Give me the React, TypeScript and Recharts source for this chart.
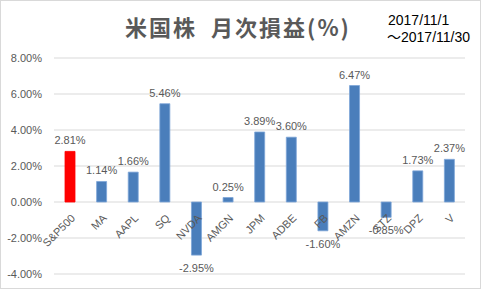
import React from 'react';
import { BarChart, Bar, XAxis, YAxis, CartesianGrid, Cell, LabelList } from 'recharts';

const categories = ['S&P500', 'MA', 'AAPL', 'SQ', 'NVDA', 'AMGN', 'JPM', 'ADBE', 'FB', 'AMZN', 'STZ', 'DPZ', 'V'];
const returns = [2.81, 1.14, 1.66, 5.46, -2.95, 0.25, 3.89, 3.6, -1.6, 6.47, -0.85, 1.73, 2.37];
const yTicks = [-4, -2, 0, 2, 4, 6, 8];
const highlight = 'S&P500';
const titleText = '米国株  月次損益(%)';
const periodLine1 = '2017/11/1';
const periodLine2 = '～2017/11/30';

const data = categories.map((name, i) => ({ name, value: returns[i] }));

const FONT = '"Liberation Sans", Arial, sans-serif';
const TEXT = '#595959';

const fmt = (v: number) => `${v.toFixed(2)}%`;

const ValueLabel = (props: any) => {
  const { x, y, width, height, index } = props;
  const v = returns[index];
  const top = Math.min(y, y + height);
  const bottom = Math.max(y, y + height);
  const cx = x + width / 2;
  const ty = v >= 0 ? top - 11 : bottom + 13;
  return (
    <text x={cx} y={ty} textAnchor="middle" dominantBaseline="central" fontSize={11} fill={TEXT} fontFamily={FONT}>
      {fmt(v)}
    </text>
  );
};

const CategoryLabel = (props: any) => {
  const { x, y, width, height, index } = props;
  const v = returns[index];
  const top = Math.min(y, y + height);
  const bottom = Math.max(y, y + height);
  const zero = v >= 0 ? bottom : top;
  const ax = x + width / 2 + 3;
  const ay = zero + 14;
  return (
    <text
      x={ax}
      y={ay}
      textAnchor="end"
      dominantBaseline="central"
      fontSize={11}
      fill={TEXT}
      fontFamily={FONT}
      transform={`rotate(-45 ${ax} ${ay})`}
    >
      {categories[index]}
    </text>
  );
};

export default function App() {
  return (
    <div style={{ position: 'absolute', left: 0, top: 0, width: 481, height: 289, background: '#fff' }}>
      <BarChart width={481} height={289} data={data} margin={{ top: 58, right: 16, bottom: 15, left: 0 }}>
        <CartesianGrid horizontal vertical={false} stroke="#d9d9d9" />
        <XAxis dataKey="name" hide />
        <YAxis
          width={54}
          domain={[-4, 8]}
          ticks={yTicks}
          tickFormatter={fmt}
          axisLine={false}
          tickLine={false}
          tickMargin={6}
          tick={{ fontSize: 11, fill: TEXT, fontFamily: FONT }}
          interval={0}
        />
        <Bar dataKey="value" barSize={10} isAnimationActive={false} stroke="#7ea6d8" strokeWidth={0.8}>
          {data.map((d) => (
            <Cell
              key={d.name}
              fill={d.name === highlight ? '#ff0000' : '#4a7ebb'}
              stroke={d.name === highlight ? '#ff0000' : '#7ea6d8'}
            />
          ))}
          <LabelList dataKey="value" content={ValueLabel} />
          <LabelList dataKey="name" content={CategoryLabel} />
        </Bar>
      </BarChart>
      <svg width={481} height={289} style={{ position: 'absolute', left: 0, top: 0, pointerEvents: 'none' }}>
        <rect x={0.5} y={0.5} width={480} height={288} fill="none" stroke="#d9d9d9" />
        <text
          x={238}
          y={36}
          textAnchor="middle"
          fontSize={22}
          fontWeight="bold"
          letterSpacing={2}
          fill={TEXT}
          style={{ whiteSpace: 'pre' }}
          fontFamily='"Noto Sans CJK JP", sans-serif'
        >
          {titleText}
        </text>
        <text x={388} y={25} fontSize={14} fill="#000" fontFamily={FONT}>
          {periodLine1}
        </text>
        <text x={387} y={42} fontSize={14} fill="#000" fontFamily='"Liberation Sans", "Noto Sans CJK JP", sans-serif'>
          {periodLine2}
        </text>
      </svg>
    </div>
  );
}
